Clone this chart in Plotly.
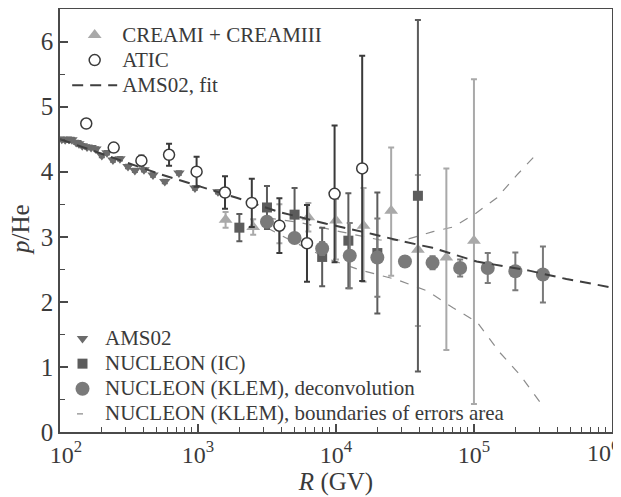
import plotly.graph_objects as go

# ---------------- data ----------------
ams_R = [103, 109, 116, 122, 131, 137, 145, 157, 168, 182, 201, 219, 242, 272, 311, 349, 406, 472, 575, 728, 951, 1396]
ams_v = [4.50, 4.49, 4.50, 4.49, 4.45, 4.43, 4.40, 4.38, 4.37, 4.35, 4.25, 4.29, 4.18, 4.20, 4.08, 4.02, 4.03, 3.95, 3.85, 3.98, 3.75, 3.69]
ams_err = [0.03] * len(ams_R)

atic_R = [155, 245, 389, 617, 977, 1570, 2455, 3890, 6166, 9772, 15490]
atic_v = [4.74, 4.37, 4.17, 4.26, 4.00, 3.68, 3.52, 3.17, 2.90, 3.66, 4.05]
atic_err = [0.0, 0.05, 0.08, 0.17, 0.23, 0.25, 0.37, 0.42, 0.59, 1.05, 1.73]

cream_R = [1585, 2512, 3890, 6310, 10000, 15850, 25120, 39260, 63100, 100000]
cream_v = [3.26, 3.15, 3.20, 3.30, 3.25, 3.17, 3.40, 2.80, 2.68, 2.94]
cream_err_plus = [0.12, 0.12, 0.30, 0.22, 0.33, 0.58, 0.97, 1.15, 1.37, 2.48]
cream_err_minus = [0.12, 0.12, 0.30, 0.22, 0.60, 0.86, 1.00, 1.17, 1.42, 2.51]

ic_R = [1995, 3162, 5012, 7943, 12300, 19950, 39260]
ic_v = [3.14, 3.45, 3.34, 2.69, 2.94, 2.75, 3.63]
ic_err = [0.21, 0.33, 0.41, 0.45, 0.73, 0.93, 2.70]

klem_R = [3162, 5012, 7943, 12590, 19950, 31620, 50120, 79430, 125900, 199500, 316200]
klem_v = [3.23, 2.98, 2.82, 2.71, 2.68, 2.62, 2.60, 2.52, 2.52, 2.47, 2.42]
klem_err = [0.05, 0.05, 0.10, 0.50, 0.60, 0.05, 0.10, 0.13, 0.23, 0.29, 0.43]

upper_R = [3162, 5483, 10690, 20840, 31620, 50470, 70470, 101600, 146900, 205100, 286400]
upper_v = [3.29, 3.22, 3.08, 2.95, 2.95, 3.08, 3.15, 3.35, 3.60, 3.95, 4.28]
lower_R = [3162, 4645, 9057, 14930, 27670, 45600, 70470, 105200, 154200, 215300, 300600]
lower_v = [3.14, 2.95, 2.65, 2.49, 2.34, 2.17, 1.91, 1.69, 1.22, 0.88, 0.46]

fit_R = [100, 158, 316, 501, 708, 1000, 1905, 3890, 8511, 18620, 28840, 50120, 104700, 251200, 467700, 1000000]
fit_v = [4.50, 4.35, 4.13, 3.98, 3.88, 3.78, 3.60, 3.38, 3.20, 3.04, 2.94, 2.83, 2.62, 2.48, 2.35, 2.22]

x_tickvals = [1e2, 1e3, 1e4, 1e5, 1e6]
x_ticktext = ["\u00a0\u00a010<sup>2</sup>", "10<sup>3</sup>", "10<sup>4</sup>", "10<sup>5</sup>", ""]
last_tick_label = "10<sup>6</sup>"

# ---------------- styles ----------------
FONT = "Liberation Serif"
TXT = "#3a3a3a"
C_AMS = "#6b6b6b"
C_IC = "#5c5c5c"
C_KLEM = "#7a7a7a"
C_CREAM = "#a9a9a9"
C_ATIC = "#3a3a3a"
C_FIT = "#3f3f3f"
C_BND = "#8c8c8c"
AX = "#4a4a4a"


def lab(s):
    return '<span style="font-size:21px">' + s + '</span>'


fig = go.Figure()

# boundaries of errors area
for bx, by in [(upper_R, upper_v), (lower_R, lower_v)]:
    fig.add_trace(go.Scatter(x=bx, y=by, mode="lines", showlegend=False,
                             line=dict(color=C_BND, width=1.2, dash="9px,9px"),
                             hoverinfo="skip"))

fig.add_trace(go.Scatter(
    x=cream_R, y=cream_v, mode="markers", name=lab("CREAMI + CREAMIII"),
    legend="legend", legendrank=1,
    marker=dict(symbol="triangle-up", size=12, color=C_CREAM, line=dict(width=0)),
    error_y=dict(type="data", symmetric=False, array=cream_err_plus, arrayminus=cream_err_minus,
                 color=C_CREAM, thickness=2, width=3)))

fig.add_trace(go.Scatter(
    x=ic_R, y=ic_v, mode="markers", name=lab("NUCLEON (IC)"),
    legend="legend2", legendrank=2,
    marker=dict(symbol="square", size=10, color=C_IC, line=dict(width=0)),
    error_y=dict(type="data", array=ic_err, color=C_IC, thickness=2, width=3)))

fig.add_trace(go.Scatter(
    x=klem_R, y=klem_v, mode="markers", name=lab("NUCLEON (KLEM), deconvolution"),
    legend="legend2", legendrank=3,
    marker=dict(symbol="circle", size=14, color=C_KLEM, line=dict(width=0)),
    error_y=dict(type="data", array=klem_err, color=C_KLEM, thickness=2, width=3)))

fig.add_trace(go.Scatter(
    x=ams_R, y=ams_v, mode="markers", name=lab("AMS02"),
    legend="legend2", legendrank=1,
    marker=dict(symbol="triangle-down", size=10, color=C_AMS, line=dict(width=0)),
    error_y=dict(type="data", array=ams_err, color=C_AMS, thickness=1.5, width=3)))

fig.add_trace(go.Scatter(
    x=fit_R, y=fit_v, mode="lines", name=lab("AMS02, fit"),
    legend="legend", legendrank=3,
    line=dict(color=C_FIT, width=2, dash="11px,7px")))

fig.add_trace(go.Scatter(
    x=atic_R, y=atic_v, mode="markers", name=lab("ATIC"),
    legend="legend", legendrank=2,
    marker=dict(symbol="circle", size=11, color="white", line=dict(color=C_ATIC, width=1.5)),
    error_y=dict(type="data", array=atic_err, color=C_ATIC, thickness=2, width=3)))

# legend sample for boundaries
fig.add_trace(go.Scatter(
    x=[None], y=[None], mode="lines", name=lab("NUCLEON (KLEM), boundaries of errors area"),
    legend="legend2", legendrank=4,
    line=dict(color=C_BND, width=1.2, dash="0px,12px,6px,40px")))

fig.update_layout(
    width=613, height=489,
    margin=dict(l=52, r=9, t=1, b=65),
    paper_bgcolor="white", plot_bgcolor="white",
    font=dict(family=FONT, color=TXT, size=17),
    showlegend=True,
    legend=dict(x=0.013, y=0.98, xanchor="left", yanchor="top",
                bgcolor="rgba(0,0,0,0)", font=dict(family=FONT, size=17, color=TXT),
                tracegroupgap=0, itemwidth=45),
    legend2=dict(x=0.0, y=0.0, xanchor="left", yanchor="bottom",
                 bgcolor="rgba(0,0,0,0)", font=dict(family=FONT, size=17, color=TXT),
                 tracegroupgap=0, itemwidth=35),
    xaxis=dict(type="log", range=[2, 6.0005], tickmode="array",
               tickvals=x_tickvals, ticktext=x_ticktext,
               showgrid=False, zeroline=False, automargin=False, ticklabeloverflow="allow",
               showline=True, linecolor=AX, linewidth=1.5, mirror=True,
               ticks="inside", ticklen=8, tickwidth=1.5, tickcolor=AX,
               minor=dict(ticks="inside", ticklen=5, tickwidth=1.2, tickcolor=AX, dtick="D1", showgrid=False),
               tickfont=dict(family=FONT, size=24, color=TXT),
               title=dict(text="<i>R</i> (GV)", font=dict(family=FONT, size=25, color=TXT), standoff=0)),
    yaxis=dict(range=[0, 6.5], dtick=1, showgrid=False, zeroline=False, automargin=False,
               showline=True, linecolor=AX, linewidth=1.5, mirror=True,
               ticks="inside", ticklen=8, tickwidth=1.5, tickcolor=AX,
               minor=dict(ticks="inside", ticklen=5, tickwidth=1.2, tickcolor=AX, dtick=0.5, showgrid=False),
               tickfont=dict(family=FONT, size=25, color=TXT)),
    annotations=[
        dict(text="<i>p</i>/He", xref="paper", yref="paper", x=-0.0707, y=0.48,
             xanchor="center", yanchor="middle", textangle=-90, showarrow=False,
             font=dict(family=FONT, size=25, color=TXT)),
        dict(text=last_tick_label, xref="x", yref="paper", x=6, y=0,
             xanchor="right", yanchor="top", xshift=9, yshift=-2, showarrow=False,
             font=dict(family=FONT, size=24, color=TXT)),
    ],
)

fig.write_html("out.html")
